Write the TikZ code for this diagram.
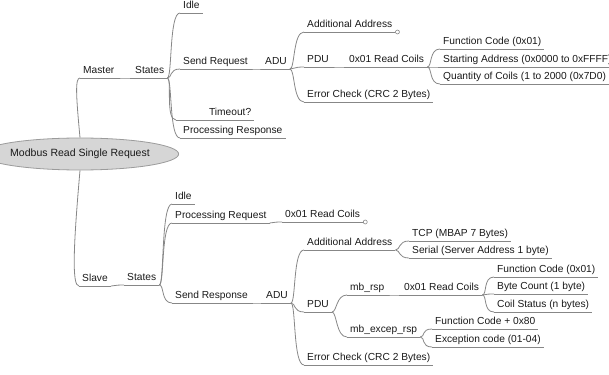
\documentclass[tikz,border=0pt]{standalone}
\usepackage{fontspec}
\setmainfont{Liberation Sans}
\usetikzlibrary{shapes.geometric}
\definecolor{linkgray}{RGB}{135,135,135}
\definecolor{txtgray}{RGB}{25,25,25}
\definecolor{rootfill}{RGB}{214,214,214}
\definecolor{rootline}{RGB}{155,155,155}
\newcommand\branch[2]{\draw[link] (#1.south east) .. controls +(5,0) and +(-11,0) .. (#2.south west);}
\begin{document}
\begin{tikzpicture}[x=1pt,y=-1pt,
  link/.style={draw=linkgray, line width=0.8pt},
  topic/.style={anchor=south west, inner xsep=3pt, inner ysep=1.8pt,
    text height=7.4pt, text depth=2.2pt, text=txtgray,
    font=\fontsize{10.2}{12}\selectfont},
  rootnode/.style={ellipse, draw=rootline, fill=rootfill, line width=0.8pt,
    minimum width=156pt, minimum height=32pt, inner sep=0pt, text=txtgray,
    font=\fontsize{10.5}{12}\selectfont},
  fold/.style={draw=linkgray, fill=white, line width=0.6pt}]
\useasboundingbox (0,0) rectangle (609,374);
\clip (0,0) rectangle (609,374);

% central topic
\node[rootnode] (root) at (80,154) {Modbus Read Single Request};

% master branch
\node[topic] (master) at (80,78) {Master};
\node[topic] (mstates) at (132,78) {States};
\node[topic] (midle) at (180,13) {Idle};
\node[topic] (msend) at (180,69) {Send Request};
\node[topic, text width=72pt, align=right] (mtimeout) at (176,120) {Timeout?};
\node[topic] (mproc) at (180,138) {Processing Response};
\node[topic] (madu) at (262,69) {ADU};
\node[topic] (maddr) at (304,32) {Additional Address};
\node[topic] (mpdu) at (304,67) {PDU};
\node[topic] (merr) at (304,102) {Error Check (CRC 2 Bytes)};
\node[topic] (mread) at (346,67) {0x01 Read Coils};
\node[topic] (mfc) at (440,49) {Function Code (0x01)};
\node[topic] (mstart) at (440,67) {Starting Address (0x0000 to 0xFFFF)};
\node[topic] (mqty) at (440,84) {Quantity of Coils (1 to 2000 (0x7D0)};

% slave branch
\node[topic] (slave) at (79,286) {Slave};
\node[topic] (sstates) at (124,285) {States};
\node[topic] (sidle) at (172,204) {Idle};
\node[topic] (sproc) at (172,223) {Processing Request};
\node[topic] (ssend) at (172,303) {Send Response};
\node[topic] (sread1) at (282,222) {0x01 Read Coils};
\node[topic] (sadu) at (263,303) {ADU};
\node[topic] (saddr) at (304,250) {Additional Address};
\node[topic] (stcp) at (409,241) {TCP (MBAP 7 Bytes)};
\node[topic] (sserial) at (409,258) {Serial (Server Address 1 byte)};
\node[topic] (spdu) at (304,312) {PDU};
\node[topic] (smbrsp) at (347,295) {mb\_rsp};
\node[topic] (sread2) at (401,295) {0x01 Read Coils};
\node[topic] (sfc) at (494,277) {Function Code (0x01)};
\node[topic] (sbc) at (494,294) {Byte Count (1 byte)};
\node[topic] (scs) at (494,312) {Coil Status (n bytes)};
\node[topic] (sexc) at (347,337) {mb\_excep\_rsp};
\node[topic] (sfcx) at (432,329) {Function Code + 0x80};
\node[topic] (sexcode) at (432,347) {Exception code (01-04)};
\node[topic] (serr) at (304,365) {Error Check (CRC 2 Bytes)};

% underlines of every topic
\foreach \n in {master,mstates,midle,msend,mtimeout,mproc,madu,maddr,mpdu,merr,
  mread,mfc,mstart,mqty,slave,sstates,sidle,sproc,ssend,sread1,sadu,saddr,stcp,
  sserial,spdu,smbrsp,sread2,sfc,sbc,scs,sexc,sfcx,sexcode,serr}
  \draw[link] (\n.south west) -- (\n.south east);

% links from the central topic
\draw[link] (root.north) .. controls (76,95) and (75,78) .. (master.south west);
\draw[link] (root.south) .. controls (73,250) and (72,286) .. (slave.south west);

% master links
\branch{master}{mstates}
\branch{mstates}{midle}
\branch{mstates}{msend}
\branch{mstates}{mtimeout}
\branch{mstates}{mproc}
\branch{msend}{madu}
\branch{madu}{maddr}
\branch{madu}{mpdu}
\branch{madu}{merr}
\branch{mpdu}{mread}
\branch{mread}{mfc}
\branch{mread}{mstart}
\branch{mread}{mqty}

% slave links
\branch{slave}{sstates}
\branch{sstates}{sidle}
\branch{sstates}{sproc}
\branch{sstates}{ssend}
\branch{sproc}{sread1}
\branch{ssend}{sadu}
\branch{sadu}{saddr}
\branch{sadu}{spdu}
\branch{sadu}{serr}
\branch{saddr}{stcp}
\branch{saddr}{sserial}
\branch{spdu}{smbrsp}
\branch{spdu}{sexc}
\branch{smbrsp}{sread2}
\branch{sread2}{sfc}
\branch{sread2}{sbc}
\branch{sread2}{scs}
\branch{sexc}{sfcx}
\branch{sexc}{sexcode}

% folded-topic markers
\draw[fold] ([xshift=2pt]maddr.south east) circle (2pt);
\draw[fold] ([xshift=2pt]sread1.south east) circle (2pt);
\end{tikzpicture}
\end{document}
